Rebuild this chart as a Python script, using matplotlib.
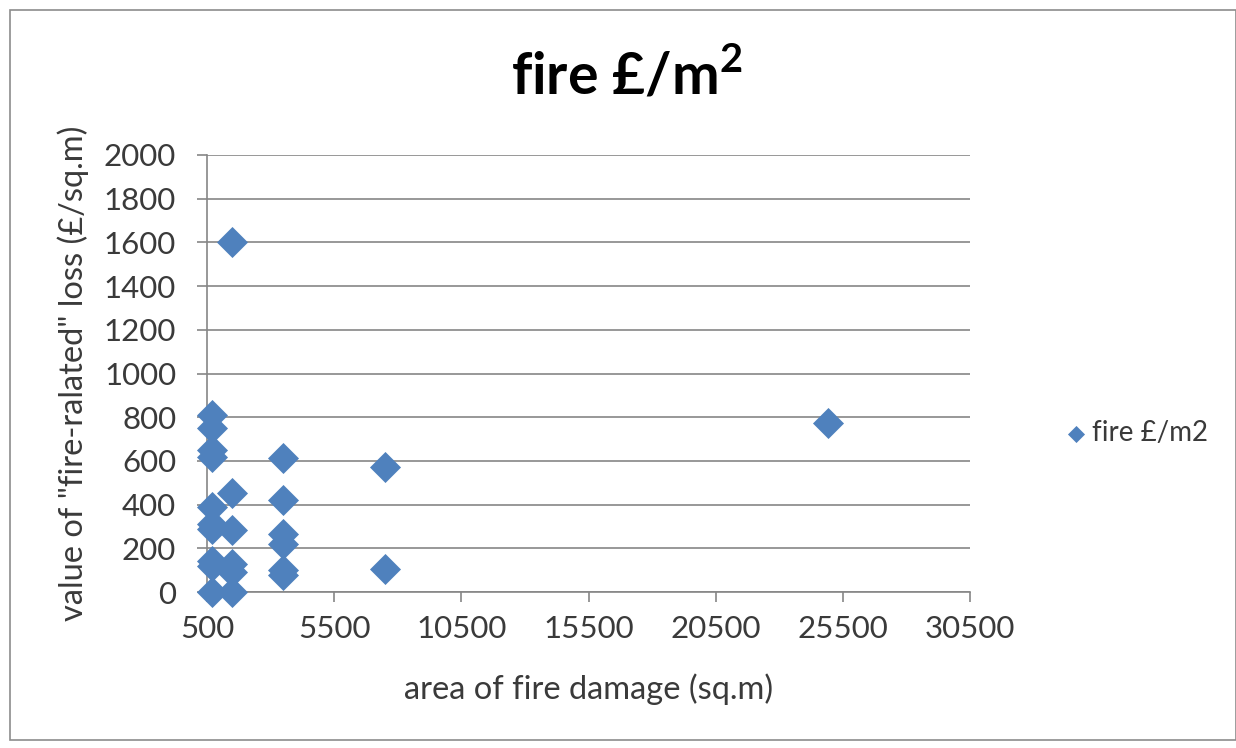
import matplotlib
matplotlib.use("Agg")
import matplotlib.pyplot as plt
from matplotlib.patches import Rectangle

plt.rcParams['font.family'] = ['Lato', 'DejaVu Sans']

# data (area of fire damage sq.m, value £/sq.m)
area = [700, 700, 700, 700, 700, 700, 700, 700, 700, 700,
        1500, 1500, 1500, 1500, 1500, 1500,
        3500, 3500, 3500, 3500, 3500, 3500,
        7500, 7500,
        24900]
value = [810, 750, 650, 620, 390, 310, 290, 140, 120, 0,
         1600, 455, 285, 130, 90, 0,
         615, 420, 265, 220, 100, 80,
         570, 105,
         775]
x_ticks = [500, 5500, 10500, 15500, 20500, 25500, 30500]
y_ticks = [0, 200, 400, 600, 800, 1000, 1200, 1400, 1600, 1800, 2000]
series_name = "fire £/m2"

W, H = 1236, 748
fig = plt.figure(figsize=(W / 100, H / 100), dpi=100)
fig.patch.set_facecolor('white')
fig.add_artist(Rectangle((10/W, 1 - 740/H), 1 - 10/W, 730/H,
                         transform=fig.transFigure, fill=False,
                         edgecolor='#8c8c8c', linewidth=1.2))

ax = fig.add_axes([207/W, 1 - 592/H, (970 - 207)/W, (592 - 155)/H])
ax.scatter(area, value, marker='D', s=250, color='#4F81BD', zorder=3,
           linewidths=0, label=series_name, clip_on=False)

ax.set_xlim(500, 30500)
ax.set_ylim(0, 2000)
ax.set_xticks(x_ticks)
ax.set_yticks(y_ticks)
ax.set_xticklabels([str(t) for t in x_ticks])
ax.set_yticklabels([str(t) for t in y_ticks])
ax.yaxis.grid(True, color='#868686', linewidth=1.2)
ax.set_axisbelow(True)
for s in ['top', 'right']:
    ax.spines[s].set_visible(False)
for s in ['left', 'bottom']:
    ax.spines[s].set_color('#868686')
    ax.spines[s].set_linewidth(1.2)
ax.tick_params(axis='both', direction='out', length=7.2, width=1.2,
               color='#868686', labelsize=22.5, labelcolor='#3a3a3a')
ax.tick_params(axis='x', pad=9)
ax.tick_params(axis='y', pad=15)

ax.set_xlabel('area of fire damage (sq.m)', fontsize=23.5, color='#3a3a3a')
ax.set_ylabel('value of "fire-ralated" loss (£/sq.m)', fontsize=23.5, color='#3a3a3a')
ax.xaxis.label.set_va('center')
ax.yaxis.label.set_va('center')
ax.yaxis.label.set_ha('center')
ax.xaxis.set_label_coords(0.5, (592 - 689) / (592 - 155))
ax.yaxis.set_label_coords((73 - 207) / (970 - 207), 0.5)

fig.text(627/W, 1 - 76/H, 'fire £/m$^\\mathregular{2}$', ha='center', va='center',
         fontsize=41, fontweight='bold', color='black')

leg = fig.legend(loc='center left', bbox_to_anchor=(1023/W, 1 - 433/H),
                 frameon=False, fontsize=20, handletextpad=-0.4, markerscale=0.55,
                 labelcolor='#3a3a3a')

fig.savefig('out.png', dpi=100, facecolor='white')
